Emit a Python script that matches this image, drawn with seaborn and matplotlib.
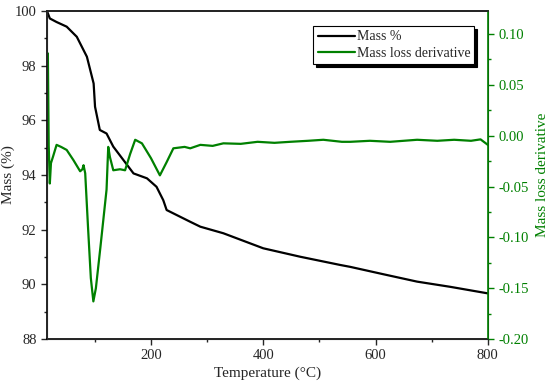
import numpy as np
import pandas as pd
import seaborn as sns
from matplotlib import pyplot as plt
from matplotlib.ticker import MultipleLocator

# mass curve (black)
temp_mass = [15, 20, 32, 50, 68, 86, 98, 100.5, 109, 121, 133, 151, 169, 193, 210,
             222, 228, 270, 288, 329, 400, 466, 537, 555, 614, 674, 733, 800]
mass = [100.0, 99.73, 99.6, 99.43, 99.06, 98.33, 97.35, 96.5, 95.65, 95.52, 95.04,
        94.55, 94.06, 93.88, 93.57, 93.08, 92.72, 92.29, 92.11, 91.87, 91.32, 91.01,
        90.71, 90.64, 90.37, 90.1, 89.91, 89.67]

# mass loss derivative (green)
temp_deriv = [15, 16.5, 18, 20, 22, 26, 32, 40, 50, 62, 74, 78, 80, 83, 88, 93, 97.5,
              102, 110, 121, 124, 127, 133, 145, 154, 163, 172, 184, 200, 216, 228,
              240, 260, 270, 288, 310, 329, 360, 390, 420, 448, 480, 507, 540, 555,
              590, 626, 650, 674, 710, 740, 770, 787, 800]
deriv = [-0.01, 0.081, -0.01, -0.047, -0.027, -0.02, -0.009, -0.011, -0.014, -0.024,
         -0.035, -0.033, -0.029, -0.037, -0.09, -0.14, -0.163, -0.15, -0.11, -0.053,
         -0.011, -0.021, -0.034, -0.033, -0.034, -0.018, -0.004, -0.0075, -0.022,
         -0.039, -0.026, -0.0124, -0.011, -0.0124, -0.009, -0.01, -0.0075, -0.008,
         -0.006, -0.007, -0.006, -0.005, -0.004, -0.006, -0.006, -0.005, -0.006,
         -0.005, -0.004, -0.005, -0.004, -0.005, -0.0036, -0.009]

green = '#008000'

sns.set_style("ticks")
plt.rcParams['font.family'] = ['Liberation Serif', 'DejaVu Serif']
plt.rcParams['font.size'] = 10.5

fig = plt.figure(figsize=(5.5, 3.89), dpi=100)
ax = fig.add_axes([0.0855, 0.1285, 0.8015, 0.843])
ax2 = ax.twinx()

df_m = pd.DataFrame({'Temperature': temp_mass, 'Mass': mass})
df_d = pd.DataFrame({'Temperature': temp_deriv, 'Deriv': deriv})

sns.lineplot(data=df_m, x='Temperature', y='Mass', ax=ax, color='black',
             linewidth=1.6, label='Mass %', legend=False)
sns.lineplot(data=df_d, x='Temperature', y='Deriv', ax=ax2, color=green,
             linewidth=1.6, label='Mass loss derivative', legend=False)

ax.set_xlim(15, 800)
ax.set_ylim(88, 100)
ax2.set_ylim(-0.2, 0.1226)

ax.xaxis.set_major_locator(MultipleLocator(200))
ax.xaxis.set_minor_locator(MultipleLocator(100))
ax.yaxis.set_major_locator(MultipleLocator(2))
ax.yaxis.set_minor_locator(MultipleLocator(1))
ax2.yaxis.set_major_locator(MultipleLocator(0.05))
ax2.yaxis.set_minor_locator(MultipleLocator(0.025))
ax2.yaxis.set_major_formatter(plt.FuncFormatter(lambda v, p: f'{v:.2f}'))

# bottom and left ticks outward
ax.tick_params(axis='both', which='major', direction='out', length=4, width=1,
               labelsize=10.5, top=False)
ax.tick_params(axis='both', which='minor', direction='out', length=2.5, width=1, top=False)
# top ticks pointing inside, drawn on the twin axes
ax2.tick_params(axis='x', which='both', top=True, bottom=False, direction='in',
                labeltop=False, labelbottom=False, width=1, length=4)
ax2.tick_params(axis='y', which='major', direction='out', length=4, width=1,
                colors=green, labelsize=10.5)
ax2.tick_params(axis='y', which='minor', direction='out', length=2.5, width=1, colors=green)

for s in ['left', 'bottom', 'top']:
    ax.spines[s].set_linewidth(1.2)
    ax.spines[s].set_color('black')
ax2.spines['right'].set_color(green)
ax2.spines['right'].set_linewidth(1.2)
ax2.spines['top'].set_linewidth(1.2)

ax.set_xlabel('Temperature (°C)', fontsize=11, labelpad=3)
ax.set_ylabel('Mass (%)', fontsize=11, labelpad=0)
ax2.set_ylabel('Mass loss derivative', fontsize=11, color=green, labelpad=5)

h1, l1 = ax.get_legend_handles_labels()
h2, l2 = ax2.get_legend_handles_labels()
leg = ax2.legend(h1 + h2, l1 + l2, loc='upper right', bbox_to_anchor=(0.985, 0.975),
                 fancybox=False, edgecolor='black', framealpha=1, fontsize=10,
                 handlelength=2.7, handletextpad=0.1, borderpad=0.3,
                 labelspacing=0.25, shadow={'color': 'black', 'alpha': 1})
leg.get_frame().set_linewidth(0.8)

fig.savefig('out.png', dpi=100)
